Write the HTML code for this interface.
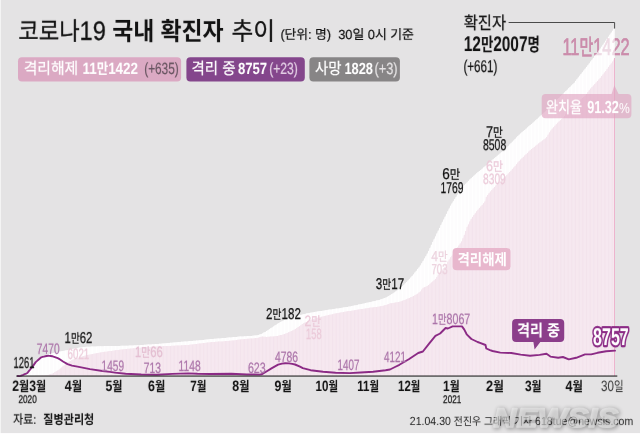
<!DOCTYPE html>
<html lang="ko"><head><meta charset="utf-8"><title>코로나19 국내 확진자 추이</title>
<style>
html,body{margin:0;padding:0;background:#fff;}
body{width:640px;height:447px;overflow:hidden;}
svg{display:block;text-rendering:geometricPrecision;will-change:transform;font-family:'Liberation Sans','Noto Sans CJK KR',sans-serif;}
</style></head><body>
<svg width="640" height="447" viewBox="0 0 640 447">
<rect x="0.6" y="0" width="639.4" height="433.1" fill="#e4e3e4"/>
<text x="562.4" y="54.8" font-size="24" fill="#cb8cab" stroke="#cb8cab" stroke-width="0.6" textLength="67.3" lengthAdjust="spacingAndGlyphs">11<tspan font-size="22">만</tspan>1422</text>
<path d="M17.1,376.0 L17.8,375.9 L19.2,375.7 L20.6,375.4 L22.0,374.9 L23.3,374.3 L24.7,373.7 L26.1,373.1 L27.4,372.5 L28.8,370.7 L30.2,368.9 L31.6,367.2 L32.9,365.5 L34.3,363.5 L35.7,361.5 L37.1,360.2 L38.4,359.0 L39.8,357.6 L41.2,356.3 L42.5,355.9 L43.9,355.4 L45.3,355.0 L46.7,354.6 L48.0,354.3 L49.4,353.9 L50.8,353.5 L52.2,353.2 L53.5,352.9 L54.9,352.6 L56.3,352.4 L57.7,352.1 L59.0,351.8 L60.3,351.6 L61.6,351.3 L62.9,351.0 L64.2,350.7 L65.5,350.5 L66.8,350.2 L68.1,349.9 L69.4,349.6 L70.7,349.3 L71.9,349.0 L73.2,348.7 L74.5,348.4 L75.8,348.2 L77.1,347.9 L78.4,347.8 L79.7,347.6 L81.0,347.5 L82.3,347.3 L83.6,347.1 L84.9,347.0 L86.2,346.8 L87.5,346.8 L88.7,346.7 L90.0,346.7 L91.3,346.6 L92.6,346.5 L93.9,346.5 L95.2,346.4 L96.5,346.4 L97.8,346.3 L99.1,346.2 L100.5,346.2 L101.8,346.2 L103.2,346.2 L104.6,346.1 L106.0,346.1 L107.3,346.1 L108.7,346.1 L110.1,346.1 L111.4,346.0 L112.8,346.0 L114.2,346.0 L115.6,346.0 L116.9,345.9 L118.3,345.9 L119.7,345.9 L121.1,345.8 L122.4,345.8 L123.8,345.8 L125.2,345.8 L126.5,345.7 L127.9,345.7 L129.3,345.6 L130.7,345.5 L132.0,345.5 L133.4,345.4 L134.8,345.3 L136.2,345.3 L137.5,345.2 L138.9,345.2 L140.3,345.1 L141.7,345.0 L143.0,344.9 L144.4,344.8 L145.8,344.7 L147.1,344.6 L148.5,344.6 L149.9,344.5 L151.3,344.4 L152.6,344.3 L154.0,344.2 L155.4,344.1 L156.8,344.0 L158.1,343.9 L159.5,343.8 L160.9,343.7 L162.2,343.5 L163.6,343.4 L165.0,343.3 L166.4,343.2 L167.7,343.1 L169.1,343.0 L170.5,342.8 L171.9,342.7 L173.2,342.6 L174.6,342.5 L176.0,342.3 L177.3,342.2 L178.7,342.1 L180.1,342.0 L181.5,341.8 L182.8,341.7 L184.2,341.6 L185.6,341.5 L187.0,341.4 L188.3,341.2 L189.7,341.1 L191.1,341.0 L192.5,340.9 L193.8,340.8 L195.2,340.7 L196.6,340.6 L197.9,340.4 L199.3,340.3 L200.7,340.2 L202.1,340.0 L203.4,339.9 L204.8,339.7 L206.2,339.6 L207.6,339.4 L208.9,339.3 L210.3,339.1 L211.7,339.0 L213.0,338.9 L214.4,338.8 L215.8,338.7 L217.2,338.6 L218.5,338.5 L219.9,338.4 L221.3,338.2 L222.7,338.1 L224.0,338.0 L225.4,337.9 L226.8,337.8 L228.1,337.6 L229.5,337.5 L230.9,337.4 L232.3,337.3 L233.6,337.1 L235.0,337.0 L236.4,336.9 L237.8,336.8 L239.1,336.6 L240.5,336.5 L241.9,336.4 L243.3,336.4 L244.6,336.3 L246.0,336.2 L247.4,336.1 L248.7,336.0 L250.1,335.9 L251.5,335.9 L252.9,335.8 L254.2,335.6 L255.6,335.5 L257.0,335.3 L258.4,335.1 L259.7,334.6 L261.1,334.0 L262.5,333.4 L263.8,332.6 L265.2,331.9 L266.6,331.1 L268.0,330.2 L269.3,329.2 L270.7,328.3 L272.1,327.4 L273.5,326.5 L274.8,325.6 L276.2,324.7 L277.6,323.8 L278.9,322.9 L280.3,322.0 L281.7,321.4 L283.1,320.7 L284.4,320.1 L285.8,319.6 L287.2,319.0 L288.6,318.4 L289.9,318.0 L291.3,317.6 L292.7,317.2 L294.1,316.8 L295.4,316.4 L296.8,316.0 L298.2,315.7 L299.5,315.3 L300.9,315.0 L302.3,314.6 L303.7,314.3 L305.0,314.0 L306.4,313.6 L307.8,313.3 L309.2,313.0 L310.5,312.7 L311.9,312.5 L313.3,312.2 L314.6,311.9 L316.0,311.7 L317.4,311.5 L318.8,311.3 L320.1,311.1 L321.5,310.9 L322.9,310.7 L324.3,310.5 L325.6,310.2 L327.0,310.0 L328.4,309.8 L329.8,309.6 L331.1,309.4 L332.5,309.2 L333.9,309.0 L335.2,308.8 L336.6,308.6 L338.0,308.4 L339.4,308.2 L340.7,308.0 L342.1,307.7 L343.5,307.5 L344.9,307.3 L346.2,307.1 L347.6,306.9 L349.0,306.6 L350.3,306.4 L351.7,306.1 L353.1,305.8 L354.5,305.5 L355.8,305.2 L357.2,304.9 L358.6,304.6 L360.0,304.3 L361.3,304.0 L362.7,303.7 L364.1,303.4 L365.4,303.1 L366.8,302.8 L368.2,302.5 L369.6,302.2 L370.9,301.9 L372.3,301.6 L373.7,301.2 L375.1,300.9 L376.4,300.6 L377.8,300.3 L379.2,300.0 L380.6,299.5 L381.9,299.0 L383.3,298.5 L384.7,298.0 L386.0,297.5 L387.4,296.7 L388.8,295.9 L390.2,295.1 L391.5,294.3 L392.9,293.4 L394.3,292.5 L395.7,291.5 L397.0,290.6 L398.4,289.6 L399.8,288.7 L401.1,287.4 L402.5,286.0 L403.9,284.7 L405.3,283.3 L406.6,282.0 L408.0,280.6 L409.4,279.1 L410.8,277.5 L412.1,276.0 L413.5,274.4 L414.9,272.6 L416.2,270.9 L417.6,269.1 L419.0,267.4 L420.4,265.6 L421.7,263.3 L423.1,260.9 L424.5,258.5 L425.9,256.2 L427.2,253.8 L428.6,250.9 L430.0,248.0 L431.4,245.1 L432.7,242.1 L434.1,239.2 L435.5,236.4 L436.8,233.6 L438.2,230.7 L439.6,227.9 L441.0,225.1 L442.3,222.3 L443.7,219.6 L445.1,216.8 L446.5,214.1 L447.8,211.3 L449.2,208.5 L450.6,205.8 L451.9,203.5 L453.3,201.3 L454.7,199.1 L456.1,196.9 L457.4,194.8 L458.8,192.8 L460.2,190.8 L461.6,188.7 L462.9,186.7 L464.3,185.3 L465.7,183.8 L467.1,182.4 L468.4,181.0 L469.8,179.5 L471.2,178.3 L472.5,177.0 L473.9,175.7 L475.3,174.5 L476.7,173.2 L478.0,172.1 L479.4,171.0 L480.8,169.9 L482.2,168.7 L483.5,167.6 L484.9,166.4 L486.3,165.3 L487.6,164.1 L489.0,162.9 L490.4,161.7 L491.8,160.5 L493.1,159.3 L494.5,158.2 L495.9,157.0 L497.3,155.8 L498.6,154.7 L500.0,153.5 L501.4,152.3 L502.7,151.2 L504.1,150.0 L505.5,148.8 L506.9,147.4 L508.2,146.0 L509.6,144.6 L511.0,143.2 L512.4,141.8 L513.7,140.4 L515.1,139.0 L516.5,137.5 L517.9,136.1 L519.2,134.7 L520.6,133.5 L522.0,132.3 L523.3,131.1 L524.7,129.9 L526.1,128.7 L527.5,127.5 L528.8,126.3 L530.2,125.1 L531.6,123.9 L533.0,122.7 L534.3,121.4 L535.7,120.2 L537.1,119.0 L538.4,117.7 L539.8,116.5 L541.2,115.3 L542.6,114.0 L543.9,112.8 L545.3,111.4 L546.7,110.1 L548.1,108.7 L549.4,107.4 L550.8,106.0 L552.2,104.7 L553.5,103.3 L554.9,102.0 L556.3,100.6 L557.7,99.3 L559.0,97.9 L560.4,96.6 L561.8,95.2 L563.2,93.8 L564.5,92.5 L565.9,91.1 L567.3,89.7 L568.7,88.3 L570.0,87.0 L571.4,85.6 L572.8,84.2 L574.1,82.9 L575.5,81.1 L576.9,79.3 L578.3,77.6 L579.6,75.8 L581.0,74.0 L582.4,72.3 L583.8,70.5 L585.1,68.8 L586.5,67.0 L587.9,65.2 L589.2,63.4 L590.6,61.5 L592.0,59.7 L593.4,57.9 L594.7,56.1 L596.1,54.2 L597.5,52.4 L598.9,50.6 L600.2,48.7 L601.6,46.7 L603.0,44.7 L604.4,42.7 L605.7,40.8 L607.1,38.8 L608.5,36.8 L609.8,34.8 L611.2,32.8 L612.6,30.8 L614.0,28.8 L614.6,28.8 L614.6,376.0 Z" fill="#f7f6f7"/>
<path d="M17.30,376.0h1.07V375.9h-1.07zM18.67,376.0h1.07V375.7h-1.07zM20.04,376.0h1.07V375.4h-1.07zM21.42,376.0h1.07V374.9h-1.07zM22.79,376.0h1.07V374.3h-1.07zM24.16,376.0h1.07V373.7h-1.07zM25.54,376.0h1.07V373.1h-1.07zM26.91,376.0h1.07V372.5h-1.07zM28.28,376.0h1.07V370.7h-1.07zM29.65,376.0h1.07V368.9h-1.07zM31.03,376.0h1.07V367.2h-1.07zM32.40,376.0h1.07V365.5h-1.07zM33.77,376.0h1.07V363.5h-1.07zM35.15,376.0h1.07V361.5h-1.07zM36.52,376.0h1.07V360.2h-1.07zM37.89,376.0h1.07V359.0h-1.07zM39.27,376.0h1.07V357.6h-1.07zM40.64,376.0h1.07V356.3h-1.07zM42.01,376.0h1.07V355.9h-1.07zM43.38,376.0h1.07V355.4h-1.07zM44.76,376.0h1.07V355.0h-1.07zM46.13,376.0h1.07V354.6h-1.07zM47.50,376.0h1.07V354.3h-1.07zM48.88,376.0h1.07V353.9h-1.07zM50.25,376.0h1.07V353.5h-1.07zM51.62,376.0h1.07V353.2h-1.07zM53.00,376.0h1.07V352.9h-1.07zM54.37,376.0h1.07V352.6h-1.07zM55.74,376.0h1.07V352.4h-1.07zM57.11,376.0h1.07V352.1h-1.07zM58.49,376.0h1.07V351.8h-1.07zM59.78,376.0h1.07V351.6h-1.07zM61.07,376.0h1.07V351.3h-1.07zM62.36,376.0h1.07V351.0h-1.07zM63.66,376.0h1.07V350.7h-1.07zM64.95,376.0h1.07V350.5h-1.07zM66.24,376.0h1.07V350.2h-1.07zM67.53,376.0h1.07V349.9h-1.07zM68.83,376.0h1.07V349.6h-1.07zM70.12,376.0h1.07V349.3h-1.07zM71.41,376.0h1.07V349.0h-1.07zM72.70,376.0h1.07V348.7h-1.07zM74.00,376.0h1.07V348.4h-1.07zM75.29,376.0h1.07V348.2h-1.07zM76.58,376.0h1.07V347.9h-1.07zM77.87,376.0h1.07V347.8h-1.07zM79.17,376.0h1.07V347.6h-1.07zM80.46,376.0h1.07V347.5h-1.07zM81.75,376.0h1.07V347.3h-1.07zM83.04,376.0h1.07V347.1h-1.07zM84.33,376.0h1.07V347.0h-1.07zM85.63,376.0h1.07V346.8h-1.07zM86.92,376.0h1.07V346.8h-1.07zM88.21,376.0h1.07V346.7h-1.07zM89.50,376.0h1.07V346.7h-1.07zM90.80,376.0h1.07V346.6h-1.07zM92.09,376.0h1.07V346.5h-1.07zM93.38,376.0h1.07V346.5h-1.07zM94.67,376.0h1.07V346.4h-1.07zM95.97,376.0h1.07V346.4h-1.07zM97.26,376.0h1.07V346.3h-1.07zM98.55,376.0h1.07V346.2h-1.07zM99.92,376.0h1.07V346.2h-1.07zM101.30,376.0h1.07V346.2h-1.07zM102.67,376.0h1.07V346.2h-1.07zM104.04,376.0h1.07V346.1h-1.07zM105.42,376.0h1.07V346.1h-1.07zM106.79,376.0h1.07V346.1h-1.07zM108.16,376.0h1.07V346.1h-1.07zM109.53,376.0h1.07V346.1h-1.07zM110.91,376.0h1.07V346.0h-1.07zM112.28,376.0h1.07V346.0h-1.07zM113.65,376.0h1.07V346.0h-1.07zM115.03,376.0h1.07V346.0h-1.07zM116.40,376.0h1.07V345.9h-1.07zM117.77,376.0h1.07V345.9h-1.07zM119.15,376.0h1.07V345.9h-1.07zM120.52,376.0h1.07V345.8h-1.07zM121.89,376.0h1.07V345.8h-1.07zM123.26,376.0h1.07V345.8h-1.07zM124.64,376.0h1.07V345.8h-1.07zM126.01,376.0h1.07V345.7h-1.07zM127.38,376.0h1.07V345.7h-1.07zM128.76,376.0h1.07V345.6h-1.07zM130.13,376.0h1.07V345.5h-1.07zM131.50,376.0h1.07V345.5h-1.07zM132.88,376.0h1.07V345.4h-1.07zM134.25,376.0h1.07V345.3h-1.07zM135.62,376.0h1.07V345.3h-1.07zM136.99,376.0h1.07V345.2h-1.07zM138.37,376.0h1.07V345.2h-1.07zM139.74,376.0h1.07V345.1h-1.07zM141.11,376.0h1.07V345.0h-1.07zM142.49,376.0h1.07V344.9h-1.07zM143.86,376.0h1.07V344.8h-1.07zM145.23,376.0h1.07V344.7h-1.07zM146.61,376.0h1.07V344.6h-1.07zM147.98,376.0h1.07V344.6h-1.07zM149.35,376.0h1.07V344.5h-1.07zM150.72,376.0h1.07V344.4h-1.07zM152.10,376.0h1.07V344.3h-1.07zM153.47,376.0h1.07V344.2h-1.07zM154.84,376.0h1.07V344.1h-1.07zM156.22,376.0h1.07V344.0h-1.07zM157.59,376.0h1.07V343.9h-1.07zM158.96,376.0h1.07V343.8h-1.07zM160.34,376.0h1.07V343.7h-1.07zM161.71,376.0h1.07V343.5h-1.07zM163.08,376.0h1.07V343.4h-1.07zM164.45,376.0h1.07V343.3h-1.07zM165.83,376.0h1.07V343.2h-1.07zM167.20,376.0h1.07V343.1h-1.07zM168.57,376.0h1.07V343.0h-1.07zM169.95,376.0h1.07V342.8h-1.07zM171.32,376.0h1.07V342.7h-1.07zM172.69,376.0h1.07V342.6h-1.07zM174.07,376.0h1.07V342.5h-1.07zM175.44,376.0h1.07V342.3h-1.07zM176.81,376.0h1.07V342.2h-1.07zM178.18,376.0h1.07V342.1h-1.07zM179.56,376.0h1.07V342.0h-1.07zM180.93,376.0h1.07V341.8h-1.07zM182.30,376.0h1.07V341.7h-1.07zM183.68,376.0h1.07V341.6h-1.07zM185.05,376.0h1.07V341.5h-1.07zM186.42,376.0h1.07V341.4h-1.07zM187.80,376.0h1.07V341.2h-1.07zM189.17,376.0h1.07V341.1h-1.07zM190.54,376.0h1.07V341.0h-1.07zM191.91,376.0h1.07V340.9h-1.07zM193.29,376.0h1.07V340.8h-1.07zM194.66,376.0h1.07V340.7h-1.07zM196.03,376.0h1.07V340.6h-1.07zM197.41,376.0h1.07V340.4h-1.07zM198.78,376.0h1.07V340.3h-1.07zM200.15,376.0h1.07V340.2h-1.07zM201.53,376.0h1.07V340.0h-1.07zM202.90,376.0h1.07V339.9h-1.07zM204.27,376.0h1.07V339.7h-1.07zM205.64,376.0h1.07V339.6h-1.07zM207.02,376.0h1.07V339.4h-1.07zM208.39,376.0h1.07V339.3h-1.07zM209.76,376.0h1.07V339.1h-1.07zM211.14,376.0h1.07V339.0h-1.07zM212.51,376.0h1.07V338.9h-1.07zM213.88,376.0h1.07V338.8h-1.07zM215.26,376.0h1.07V338.7h-1.07zM216.63,376.0h1.07V338.6h-1.07zM218.00,376.0h1.07V338.5h-1.07zM219.37,376.0h1.07V338.4h-1.07zM220.75,376.0h1.07V338.2h-1.07zM222.12,376.0h1.07V338.1h-1.07zM223.49,376.0h1.07V338.0h-1.07zM224.87,376.0h1.07V337.9h-1.07zM226.24,376.0h1.07V337.8h-1.07zM227.61,376.0h1.07V337.6h-1.07zM228.99,376.0h1.07V337.5h-1.07zM230.36,376.0h1.07V337.4h-1.07zM231.73,376.0h1.07V337.3h-1.07zM233.10,376.0h1.07V337.1h-1.07zM234.48,376.0h1.07V337.0h-1.07zM235.85,376.0h1.07V336.9h-1.07zM237.22,376.0h1.07V336.8h-1.07zM238.60,376.0h1.07V336.6h-1.07zM239.97,376.0h1.07V336.5h-1.07zM241.34,376.0h1.07V336.4h-1.07zM242.72,376.0h1.07V336.4h-1.07zM244.09,376.0h1.07V336.3h-1.07zM245.46,376.0h1.07V336.2h-1.07zM246.83,376.0h1.07V336.1h-1.07zM248.21,376.0h1.07V336.0h-1.07zM249.58,376.0h1.07V335.9h-1.07zM250.95,376.0h1.07V335.9h-1.07zM252.33,376.0h1.07V335.8h-1.07zM253.70,376.0h1.07V335.6h-1.07zM255.07,376.0h1.07V335.5h-1.07zM256.45,376.0h1.07V335.3h-1.07zM257.82,376.0h1.07V335.1h-1.07zM259.19,376.0h1.07V334.6h-1.07zM260.56,376.0h1.07V334.0h-1.07zM261.94,376.0h1.07V333.4h-1.07zM263.31,376.0h1.07V332.6h-1.07zM264.68,376.0h1.07V331.9h-1.07zM266.06,376.0h1.07V331.1h-1.07zM267.43,376.0h1.07V330.2h-1.07zM268.80,376.0h1.07V329.2h-1.07zM270.18,376.0h1.07V328.3h-1.07zM271.55,376.0h1.07V327.4h-1.07zM272.92,376.0h1.07V326.5h-1.07zM274.29,376.0h1.07V325.6h-1.07zM275.67,376.0h1.07V324.7h-1.07zM277.04,376.0h1.07V323.8h-1.07zM278.41,376.0h1.07V322.9h-1.07zM279.79,376.0h1.07V322.0h-1.07zM281.16,376.0h1.07V321.4h-1.07zM282.53,376.0h1.07V320.7h-1.07zM283.91,376.0h1.07V320.1h-1.07zM285.28,376.0h1.07V319.6h-1.07zM286.65,376.0h1.07V319.0h-1.07zM288.02,376.0h1.07V318.4h-1.07zM289.40,376.0h1.07V318.0h-1.07zM290.77,376.0h1.07V317.6h-1.07zM292.14,376.0h1.07V317.2h-1.07zM293.52,376.0h1.07V316.8h-1.07zM294.89,376.0h1.07V316.4h-1.07zM296.26,376.0h1.07V316.0h-1.07zM297.64,376.0h1.07V315.7h-1.07zM299.01,376.0h1.07V315.3h-1.07zM300.38,376.0h1.07V315.0h-1.07zM301.75,376.0h1.07V314.6h-1.07zM303.13,376.0h1.07V314.3h-1.07zM304.50,376.0h1.07V314.0h-1.07zM305.87,376.0h1.07V313.6h-1.07zM307.25,376.0h1.07V313.3h-1.07zM308.62,376.0h1.07V313.0h-1.07zM309.99,376.0h1.07V312.7h-1.07zM311.37,376.0h1.07V312.5h-1.07zM312.74,376.0h1.07V312.2h-1.07zM314.11,376.0h1.07V311.9h-1.07zM315.48,376.0h1.07V311.7h-1.07zM316.86,376.0h1.07V311.5h-1.07zM318.23,376.0h1.07V311.3h-1.07zM319.60,376.0h1.07V311.1h-1.07zM320.98,376.0h1.07V310.9h-1.07zM322.35,376.0h1.07V310.7h-1.07zM323.72,376.0h1.07V310.5h-1.07zM325.10,376.0h1.07V310.2h-1.07zM326.47,376.0h1.07V310.0h-1.07zM327.84,376.0h1.07V309.8h-1.07zM329.21,376.0h1.07V309.6h-1.07zM330.59,376.0h1.07V309.4h-1.07zM331.96,376.0h1.07V309.2h-1.07zM333.33,376.0h1.07V309.0h-1.07zM334.71,376.0h1.07V308.8h-1.07zM336.08,376.0h1.07V308.6h-1.07zM337.45,376.0h1.07V308.4h-1.07zM338.83,376.0h1.07V308.2h-1.07zM340.20,376.0h1.07V308.0h-1.07zM341.57,376.0h1.07V307.7h-1.07zM342.94,376.0h1.07V307.5h-1.07zM344.32,376.0h1.07V307.3h-1.07zM345.69,376.0h1.07V307.1h-1.07zM347.06,376.0h1.07V306.9h-1.07zM348.44,376.0h1.07V306.6h-1.07zM349.81,376.0h1.07V306.4h-1.07zM351.18,376.0h1.07V306.1h-1.07zM352.56,376.0h1.07V305.8h-1.07zM353.93,376.0h1.07V305.5h-1.07zM355.30,376.0h1.07V305.2h-1.07zM356.67,376.0h1.07V304.9h-1.07zM358.05,376.0h1.07V304.6h-1.07zM359.42,376.0h1.07V304.3h-1.07zM360.79,376.0h1.07V304.0h-1.07zM362.17,376.0h1.07V303.7h-1.07zM363.54,376.0h1.07V303.4h-1.07zM364.91,376.0h1.07V303.1h-1.07zM366.29,376.0h1.07V302.8h-1.07zM367.66,376.0h1.07V302.5h-1.07zM369.03,376.0h1.07V302.2h-1.07zM370.40,376.0h1.07V301.9h-1.07zM371.78,376.0h1.07V301.6h-1.07zM373.15,376.0h1.07V301.2h-1.07zM374.52,376.0h1.07V300.9h-1.07zM375.90,376.0h1.07V300.6h-1.07zM377.27,376.0h1.07V300.3h-1.07zM378.64,376.0h1.07V300.0h-1.07zM380.02,376.0h1.07V299.5h-1.07zM381.39,376.0h1.07V299.0h-1.07zM382.76,376.0h1.07V298.5h-1.07zM384.13,376.0h1.07V298.0h-1.07zM385.51,376.0h1.07V297.5h-1.07zM386.88,376.0h1.07V296.7h-1.07zM388.25,376.0h1.07V295.9h-1.07zM389.63,376.0h1.07V295.1h-1.07zM391.00,376.0h1.07V294.3h-1.07zM392.37,376.0h1.07V293.4h-1.07zM393.75,376.0h1.07V292.5h-1.07zM395.12,376.0h1.07V291.5h-1.07zM396.49,376.0h1.07V290.6h-1.07zM397.86,376.0h1.07V289.6h-1.07zM399.24,376.0h1.07V288.7h-1.07zM400.61,376.0h1.07V287.4h-1.07zM401.98,376.0h1.07V286.0h-1.07zM403.36,376.0h1.07V284.7h-1.07zM404.73,376.0h1.07V283.3h-1.07zM406.10,376.0h1.07V282.0h-1.07zM407.48,376.0h1.07V280.6h-1.07zM408.85,376.0h1.07V279.1h-1.07zM410.22,376.0h1.07V277.5h-1.07zM411.59,376.0h1.07V276.0h-1.07zM412.97,376.0h1.07V274.4h-1.07zM414.34,376.0h1.07V272.6h-1.07zM415.71,376.0h1.07V270.9h-1.07zM417.09,376.0h1.07V269.1h-1.07zM418.46,376.0h1.07V267.4h-1.07zM419.83,376.0h1.07V265.6h-1.07zM421.21,376.0h1.07V263.3h-1.07zM422.58,376.0h1.07V260.9h-1.07zM423.95,376.0h1.07V258.5h-1.07zM425.32,376.0h1.07V256.2h-1.07zM426.70,376.0h1.07V253.8h-1.07zM428.07,376.0h1.07V250.9h-1.07zM429.44,376.0h1.07V248.0h-1.07zM430.82,376.0h1.07V245.1h-1.07zM432.19,376.0h1.07V242.1h-1.07zM433.56,376.0h1.07V239.2h-1.07zM434.94,376.0h1.07V236.4h-1.07zM436.31,376.0h1.07V233.6h-1.07zM437.68,376.0h1.07V230.7h-1.07zM439.05,376.0h1.07V227.9h-1.07zM440.43,376.0h1.07V225.1h-1.07zM441.80,376.0h1.07V222.3h-1.07zM443.17,376.0h1.07V219.6h-1.07zM444.55,376.0h1.07V216.8h-1.07zM445.92,376.0h1.07V214.1h-1.07zM447.29,376.0h1.07V211.3h-1.07zM448.67,376.0h1.07V208.5h-1.07zM450.04,376.0h1.07V205.8h-1.07zM451.41,376.0h1.07V203.5h-1.07zM452.78,376.0h1.07V201.3h-1.07zM454.16,376.0h1.07V199.1h-1.07zM455.53,376.0h1.07V196.9h-1.07zM456.90,376.0h1.07V194.8h-1.07zM458.28,376.0h1.07V192.8h-1.07zM459.65,376.0h1.07V190.8h-1.07zM461.02,376.0h1.07V188.7h-1.07zM462.40,376.0h1.07V186.7h-1.07zM463.77,376.0h1.07V185.3h-1.07zM465.14,376.0h1.07V183.8h-1.07zM466.51,376.0h1.07V182.4h-1.07zM467.89,376.0h1.07V181.0h-1.07zM469.26,376.0h1.07V179.5h-1.07zM470.63,376.0h1.07V178.3h-1.07zM472.01,376.0h1.07V177.0h-1.07zM473.38,376.0h1.07V175.7h-1.07zM474.75,376.0h1.07V174.5h-1.07zM476.13,376.0h1.07V173.2h-1.07zM477.50,376.0h1.07V172.1h-1.07zM478.87,376.0h1.07V171.0h-1.07zM480.24,376.0h1.07V169.9h-1.07zM481.62,376.0h1.07V168.7h-1.07zM482.99,376.0h1.07V167.6h-1.07zM484.36,376.0h1.07V166.4h-1.07zM485.74,376.0h1.07V165.3h-1.07zM487.11,376.0h1.07V164.1h-1.07zM488.48,376.0h1.07V162.9h-1.07zM489.86,376.0h1.07V161.7h-1.07zM491.23,376.0h1.07V160.5h-1.07zM492.60,376.0h1.07V159.3h-1.07zM493.97,376.0h1.07V158.2h-1.07zM495.35,376.0h1.07V157.0h-1.07zM496.72,376.0h1.07V155.8h-1.07zM498.09,376.0h1.07V154.7h-1.07zM499.47,376.0h1.07V153.5h-1.07zM500.84,376.0h1.07V152.3h-1.07zM502.21,376.0h1.07V151.2h-1.07zM503.59,376.0h1.07V150.0h-1.07zM504.96,376.0h1.07V148.8h-1.07zM506.33,376.0h1.07V147.4h-1.07zM507.70,376.0h1.07V146.0h-1.07zM509.08,376.0h1.07V144.6h-1.07zM510.45,376.0h1.07V143.2h-1.07zM511.82,376.0h1.07V141.8h-1.07zM513.20,376.0h1.07V140.4h-1.07zM514.57,376.0h1.07V139.0h-1.07zM515.94,376.0h1.07V137.5h-1.07zM517.32,376.0h1.07V136.1h-1.07zM518.69,376.0h1.07V134.7h-1.07zM520.06,376.0h1.07V133.5h-1.07zM521.43,376.0h1.07V132.3h-1.07zM522.81,376.0h1.07V131.1h-1.07zM524.18,376.0h1.07V129.9h-1.07zM525.55,376.0h1.07V128.7h-1.07zM526.93,376.0h1.07V127.5h-1.07zM528.30,376.0h1.07V126.3h-1.07zM529.67,376.0h1.07V125.1h-1.07zM531.05,376.0h1.07V123.9h-1.07zM532.42,376.0h1.07V122.7h-1.07zM533.79,376.0h1.07V121.4h-1.07zM535.16,376.0h1.07V120.2h-1.07zM536.54,376.0h1.07V119.0h-1.07zM537.91,376.0h1.07V117.7h-1.07zM539.28,376.0h1.07V116.5h-1.07zM540.66,376.0h1.07V115.3h-1.07zM542.03,376.0h1.07V114.0h-1.07zM543.40,376.0h1.07V112.8h-1.07zM544.78,376.0h1.07V111.4h-1.07zM546.15,376.0h1.07V110.1h-1.07zM547.52,376.0h1.07V108.7h-1.07zM548.89,376.0h1.07V107.4h-1.07zM550.27,376.0h1.07V106.0h-1.07zM551.64,376.0h1.07V104.7h-1.07zM553.01,376.0h1.07V103.3h-1.07zM554.39,376.0h1.07V102.0h-1.07zM555.76,376.0h1.07V100.6h-1.07zM557.13,376.0h1.07V99.3h-1.07zM558.51,376.0h1.07V97.9h-1.07zM559.88,376.0h1.07V96.6h-1.07zM561.25,376.0h1.07V95.2h-1.07zM562.62,376.0h1.07V93.8h-1.07zM564.00,376.0h1.07V92.5h-1.07zM565.37,376.0h1.07V91.1h-1.07zM566.74,376.0h1.07V89.7h-1.07zM568.12,376.0h1.07V88.3h-1.07zM569.49,376.0h1.07V87.0h-1.07zM570.86,376.0h1.07V85.6h-1.07zM572.24,376.0h1.07V84.2h-1.07zM573.61,376.0h1.07V82.9h-1.07zM574.98,376.0h1.07V81.1h-1.07zM576.35,376.0h1.07V79.3h-1.07zM577.73,376.0h1.07V77.6h-1.07zM579.10,376.0h1.07V75.8h-1.07zM580.47,376.0h1.07V74.0h-1.07zM581.85,376.0h1.07V72.3h-1.07zM583.22,376.0h1.07V70.5h-1.07zM584.59,376.0h1.07V68.8h-1.07zM585.97,376.0h1.07V67.0h-1.07zM587.34,376.0h1.07V65.2h-1.07zM588.71,376.0h1.07V63.4h-1.07zM590.08,376.0h1.07V61.5h-1.07zM591.46,376.0h1.07V59.7h-1.07zM592.83,376.0h1.07V57.9h-1.07zM594.20,376.0h1.07V56.1h-1.07zM595.58,376.0h1.07V54.2h-1.07zM596.95,376.0h1.07V52.4h-1.07zM598.32,376.0h1.07V50.6h-1.07zM599.70,376.0h1.07V48.7h-1.07zM601.07,376.0h1.07V46.7h-1.07zM602.44,376.0h1.07V44.7h-1.07zM603.81,376.0h1.07V42.7h-1.07zM605.19,376.0h1.07V40.8h-1.07zM606.56,376.0h1.07V38.8h-1.07zM607.93,376.0h1.07V36.8h-1.07zM609.31,376.0h1.07V34.8h-1.07zM610.68,376.0h1.07V32.8h-1.07zM612.05,376.0h1.07V30.8h-1.07zM613.43,376.0h1.07V28.8h-1.07z" fill="#fff"/>
<path d="M17.1,376.0 L17.8,376.0 L19.2,376.0 L20.6,376.0 L22.0,376.0 L23.3,376.0 L24.7,376.0 L26.1,376.0 L27.4,375.9 L28.8,375.9 L30.2,375.9 L31.6,375.9 L32.9,375.9 L34.3,375.9 L35.7,375.8 L37.1,375.8 L38.4,375.8 L39.8,375.7 L41.2,375.6 L42.5,375.5 L43.9,375.4 L45.3,375.3 L46.7,375.2 L48.0,375.1 L49.4,374.6 L50.8,374.1 L52.2,373.7 L53.5,372.9 L54.9,372.1 L56.3,371.3 L57.7,370.5 L59.0,369.8 L60.3,368.5 L61.6,367.4 L62.9,366.2 L64.2,365.2 L65.5,364.2 L66.8,363.2 L68.1,362.3 L69.4,361.6 L70.7,360.9 L71.9,360.1 L73.2,359.6 L74.5,359.1 L75.8,358.6 L77.1,358.2 L78.4,357.8 L79.7,357.4 L81.0,357.0 L82.3,356.6 L83.6,356.1 L84.9,355.7 L86.2,355.3 L87.5,355.0 L88.7,354.7 L90.0,354.4 L91.3,354.2 L92.6,353.9 L93.9,353.7 L95.2,353.4 L96.5,353.2 L97.8,352.9 L99.1,352.7 L100.5,352.4 L101.8,352.2 L103.2,352.0 L104.6,351.8 L106.0,351.7 L107.3,351.5 L108.7,351.3 L110.1,351.1 L111.4,350.9 L112.8,350.7 L114.2,350.5 L115.6,350.3 L116.9,350.1 L118.3,349.9 L119.7,349.8 L121.1,349.6 L122.4,349.4 L123.8,349.2 L125.2,349.1 L126.5,348.9 L127.9,348.8 L129.3,348.7 L130.7,348.6 L132.0,348.4 L133.4,348.3 L134.8,348.2 L136.2,348.0 L137.5,347.9 L138.9,347.8 L140.3,347.7 L141.7,347.5 L143.0,347.4 L144.4,347.3 L145.8,347.2 L147.1,347.1 L148.5,347.0 L149.9,346.9 L151.3,346.8 L152.6,346.7 L154.0,346.6 L155.4,346.5 L156.8,346.4 L158.1,346.3 L159.5,346.3 L160.9,346.2 L162.2,346.2 L163.6,346.1 L165.0,346.1 L166.4,346.0 L167.7,346.0 L169.1,345.9 L170.5,345.9 L171.9,345.8 L173.2,345.8 L174.6,345.7 L176.0,345.6 L177.3,345.5 L178.7,345.4 L180.1,345.4 L181.5,345.3 L182.8,345.2 L184.2,345.1 L185.6,345.1 L187.0,345.0 L188.3,344.9 L189.7,344.7 L191.1,344.6 L192.5,344.4 L193.8,344.3 L195.2,344.1 L196.6,343.9 L197.9,343.8 L199.3,343.6 L200.7,343.4 L202.1,343.3 L203.4,343.1 L204.8,342.9 L206.2,342.7 L207.6,342.6 L208.9,342.4 L210.3,342.2 L211.7,342.1 L213.0,342.0 L214.4,341.9 L215.8,341.8 L217.2,341.7 L218.5,341.6 L219.9,341.5 L221.3,341.5 L222.7,341.4 L224.0,341.3 L225.4,341.1 L226.8,341.0 L228.1,340.9 L229.5,340.8 L230.9,340.7 L232.3,340.5 L233.6,340.4 L235.0,340.2 L236.4,340.0 L237.8,339.8 L239.1,339.6 L240.5,339.4 L241.9,339.3 L243.3,339.2 L244.6,339.0 L246.0,338.9 L247.4,338.7 L248.7,338.7 L250.1,338.6 L251.5,338.5 L252.9,338.4 L254.2,338.2 L255.6,338.0 L257.0,337.9 L258.4,337.7 L259.7,337.2 L261.1,336.8 L262.5,336.6 L263.8,336.7 L265.2,336.8 L266.6,336.9 L268.0,336.8 L269.3,336.7 L270.7,336.6 L272.1,336.5 L273.5,336.4 L274.8,336.3 L276.2,336.1 L277.6,336.0 L278.9,335.6 L280.3,335.1 L281.7,334.9 L283.1,334.4 L284.4,334.0 L285.8,333.4 L287.2,332.9 L288.6,332.3 L289.9,331.7 L291.3,331.1 L292.7,330.5 L294.1,329.8 L295.4,329.0 L296.8,328.1 L298.2,327.1 L299.5,326.2 L300.9,325.2 L302.3,324.1 L303.7,323.3 L305.0,322.6 L306.4,321.9 L307.8,321.2 L309.2,320.5 L310.5,319.9 L311.9,319.5 L313.3,319.0 L314.6,318.6 L316.0,318.2 L317.4,317.8 L318.8,317.5 L320.1,317.1 L321.5,316.8 L322.9,316.4 L324.3,316.1 L325.6,315.8 L327.0,315.4 L328.4,315.1 L329.8,314.8 L331.1,314.5 L332.5,314.2 L333.9,313.8 L335.2,313.5 L336.6,313.3 L338.0,313.0 L339.4,312.8 L340.7,312.5 L342.1,312.3 L343.5,312.1 L344.9,311.8 L346.2,311.6 L347.6,311.3 L349.0,311.1 L350.3,310.9 L351.7,310.7 L353.1,310.4 L354.5,310.2 L355.8,310.0 L357.2,309.8 L358.6,309.6 L360.0,309.3 L361.3,309.1 L362.7,308.9 L364.1,308.7 L365.4,308.5 L366.8,308.3 L368.2,308.1 L369.6,307.8 L370.9,307.6 L372.3,307.4 L373.7,307.2 L375.1,307.1 L376.4,306.9 L377.8,306.8 L379.2,306.6 L380.6,306.3 L381.9,306.0 L383.3,305.7 L384.7,305.3 L386.0,305.0 L387.4,304.4 L388.8,303.9 L390.2,303.3 L391.5,303.2 L392.9,303.1 L394.3,302.8 L395.7,302.6 L397.0,302.3 L398.4,302.1 L399.8,301.8 L401.1,301.3 L402.5,300.8 L403.9,300.2 L405.3,299.7 L406.6,299.2 L408.0,298.6 L409.4,298.0 L410.8,297.3 L412.1,296.7 L413.5,296.1 L414.9,295.3 L416.2,294.5 L417.6,293.7 L419.0,292.6 L420.4,291.4 L421.7,289.5 L423.1,287.8 L424.5,287.2 L425.9,286.7 L427.2,286.1 L428.6,284.9 L430.0,283.8 L431.4,282.6 L432.7,281.4 L434.1,280.2 L435.5,279.1 L436.8,277.0 L438.2,274.8 L439.6,272.7 L441.0,271.1 L442.3,269.7 L443.7,268.3 L445.1,267.0 L446.5,264.6 L447.8,261.6 L449.2,259.4 L450.6,257.3 L451.9,255.7 L453.3,253.8 L454.7,251.7 L456.1,249.5 L457.4,247.5 L458.8,245.5 L460.2,243.5 L461.6,241.5 L462.9,238.2 L464.3,234.9 L465.7,230.9 L467.1,227.1 L468.4,224.4 L469.8,221.6 L471.2,219.0 L472.5,217.0 L473.9,215.1 L475.3,213.2 L476.7,211.3 L478.0,209.7 L479.4,208.1 L480.8,206.5 L482.2,204.9 L483.5,203.3 L484.9,201.6 L486.3,196.9 L487.6,195.0 L489.0,193.2 L490.4,191.5 L491.8,189.9 L493.1,188.4 L494.5,187.0 L495.9,185.6 L497.3,184.1 L498.6,182.7 L500.0,181.3 L501.4,180.0 L502.7,178.8 L504.1,177.6 L505.5,176.4 L506.9,175.0 L508.2,173.6 L509.6,172.1 L511.0,170.7 L512.4,169.1 L513.7,167.5 L515.1,165.9 L516.5,164.2 L517.9,162.6 L519.2,161.0 L520.6,159.6 L522.0,158.2 L523.3,156.9 L524.7,155.5 L526.1,154.2 L527.5,152.9 L528.8,151.5 L530.2,150.2 L531.6,149.1 L533.0,148.0 L534.3,146.9 L535.7,145.8 L537.1,144.7 L538.4,143.6 L539.8,142.5 L541.2,141.5 L542.6,140.5 L543.9,139.5 L545.3,138.4 L546.7,137.1 L548.1,134.8 L549.4,132.5 L550.8,130.4 L552.2,128.8 L553.5,127.3 L554.9,125.8 L556.3,124.2 L557.7,122.7 L559.0,121.4 L560.4,120.3 L561.8,119.1 L563.2,117.8 L564.5,115.9 L565.9,114.0 L567.3,112.1 L568.7,110.1 L570.0,109.0 L571.4,107.9 L572.8,106.9 L574.1,105.8 L575.5,104.4 L576.9,103.0 L578.3,101.8 L579.6,100.6 L581.0,99.3 L582.4,98.1 L583.8,96.9 L585.1,95.7 L586.5,93.9 L587.9,92.1 L589.2,90.3 L590.6,88.5 L592.0,86.9 L593.4,85.4 L594.7,83.9 L596.1,82.5 L597.5,81.0 L598.9,79.4 L600.2,77.9 L601.6,76.1 L603.0,74.4 L604.4,72.6 L605.7,70.9 L607.1,69.0 L608.5,67.1 L609.8,65.3 L611.2,63.4 L612.6,61.5 L614.0,59.6 L614.6,59.6 L614.6,376.0 Z" fill="#f9eff4"/>
<path d="M26.96,376.0h0.97V375.9h-0.97zM28.33,376.0h0.97V375.9h-0.97zM29.70,376.0h0.97V375.9h-0.97zM31.08,376.0h0.97V375.9h-0.97zM32.45,376.0h0.97V375.9h-0.97zM33.82,376.0h0.97V375.9h-0.97zM35.20,376.0h0.97V375.8h-0.97zM36.57,376.0h0.97V375.8h-0.97zM37.94,376.0h0.97V375.8h-0.97zM39.32,376.0h0.97V375.7h-0.97zM40.69,376.0h0.97V375.6h-0.97zM42.06,376.0h0.97V375.5h-0.97zM43.43,376.0h0.97V375.4h-0.97zM44.81,376.0h0.97V375.3h-0.97zM46.18,376.0h0.97V375.2h-0.97zM47.55,376.0h0.97V375.1h-0.97zM48.93,376.0h0.97V374.6h-0.97zM50.30,376.0h0.97V374.1h-0.97zM51.67,376.0h0.97V373.7h-0.97zM53.05,376.0h0.97V372.9h-0.97zM54.42,376.0h0.97V372.1h-0.97zM55.79,376.0h0.97V371.3h-0.97zM57.16,376.0h0.97V370.5h-0.97zM58.54,376.0h0.97V369.8h-0.97zM59.83,376.0h0.97V368.5h-0.97zM61.12,376.0h0.97V367.4h-0.97zM62.41,376.0h0.97V366.2h-0.97zM63.71,376.0h0.97V365.2h-0.97zM65.00,376.0h0.97V364.2h-0.97zM66.29,376.0h0.97V363.2h-0.97zM67.58,376.0h0.97V362.3h-0.97zM68.88,376.0h0.97V361.6h-0.97zM70.17,376.0h0.97V360.9h-0.97zM71.46,376.0h0.97V360.1h-0.97zM72.75,376.0h0.97V359.6h-0.97zM74.05,376.0h0.97V359.1h-0.97zM75.34,376.0h0.97V358.6h-0.97zM76.63,376.0h0.97V358.2h-0.97zM77.92,376.0h0.97V357.8h-0.97zM79.22,376.0h0.97V357.4h-0.97zM80.51,376.0h0.97V357.0h-0.97zM81.80,376.0h0.97V356.6h-0.97zM83.09,376.0h0.97V356.1h-0.97zM84.38,376.0h0.97V355.7h-0.97zM85.68,376.0h0.97V355.3h-0.97zM86.97,376.0h0.97V355.0h-0.97zM88.26,376.0h0.97V354.7h-0.97zM89.55,376.0h0.97V354.4h-0.97zM90.85,376.0h0.97V354.2h-0.97zM92.14,376.0h0.97V353.9h-0.97zM93.43,376.0h0.97V353.7h-0.97zM94.72,376.0h0.97V353.4h-0.97zM96.02,376.0h0.97V353.2h-0.97zM97.31,376.0h0.97V352.9h-0.97zM98.60,376.0h0.97V352.7h-0.97zM99.97,376.0h0.97V352.4h-0.97zM101.35,376.0h0.97V352.2h-0.97zM102.72,376.0h0.97V352.0h-0.97zM104.09,376.0h0.97V351.8h-0.97zM105.47,376.0h0.97V351.7h-0.97zM106.84,376.0h0.97V351.5h-0.97zM108.21,376.0h0.97V351.3h-0.97zM109.58,376.0h0.97V351.1h-0.97zM110.96,376.0h0.97V350.9h-0.97zM112.33,376.0h0.97V350.7h-0.97zM113.70,376.0h0.97V350.5h-0.97zM115.08,376.0h0.97V350.3h-0.97zM116.45,376.0h0.97V350.1h-0.97zM117.82,376.0h0.97V349.9h-0.97zM119.20,376.0h0.97V349.8h-0.97zM120.57,376.0h0.97V349.6h-0.97zM121.94,376.0h0.97V349.4h-0.97zM123.31,376.0h0.97V349.2h-0.97zM124.69,376.0h0.97V349.1h-0.97zM126.06,376.0h0.97V348.9h-0.97zM127.43,376.0h0.97V348.8h-0.97zM128.81,376.0h0.97V348.7h-0.97zM130.18,376.0h0.97V348.6h-0.97zM131.55,376.0h0.97V348.4h-0.97zM132.93,376.0h0.97V348.3h-0.97zM134.30,376.0h0.97V348.2h-0.97zM135.67,376.0h0.97V348.0h-0.97zM137.04,376.0h0.97V347.9h-0.97zM138.42,376.0h0.97V347.8h-0.97zM139.79,376.0h0.97V347.7h-0.97zM141.16,376.0h0.97V347.5h-0.97zM142.54,376.0h0.97V347.4h-0.97zM143.91,376.0h0.97V347.3h-0.97zM145.28,376.0h0.97V347.2h-0.97zM146.66,376.0h0.97V347.1h-0.97zM148.03,376.0h0.97V347.0h-0.97zM149.40,376.0h0.97V346.9h-0.97zM150.77,376.0h0.97V346.8h-0.97zM152.15,376.0h0.97V346.7h-0.97zM153.52,376.0h0.97V346.6h-0.97zM154.89,376.0h0.97V346.5h-0.97zM156.27,376.0h0.97V346.4h-0.97zM157.64,376.0h0.97V346.3h-0.97zM159.01,376.0h0.97V346.3h-0.97zM160.39,376.0h0.97V346.2h-0.97zM161.76,376.0h0.97V346.2h-0.97zM163.13,376.0h0.97V346.1h-0.97zM164.50,376.0h0.97V346.1h-0.97zM165.88,376.0h0.97V346.0h-0.97zM167.25,376.0h0.97V346.0h-0.97zM168.62,376.0h0.97V345.9h-0.97zM170.00,376.0h0.97V345.9h-0.97zM171.37,376.0h0.97V345.8h-0.97zM172.74,376.0h0.97V345.8h-0.97zM174.12,376.0h0.97V345.7h-0.97zM175.49,376.0h0.97V345.6h-0.97zM176.86,376.0h0.97V345.5h-0.97zM178.23,376.0h0.97V345.4h-0.97zM179.61,376.0h0.97V345.4h-0.97zM180.98,376.0h0.97V345.3h-0.97zM182.35,376.0h0.97V345.2h-0.97zM183.73,376.0h0.97V345.1h-0.97zM185.10,376.0h0.97V345.1h-0.97zM186.47,376.0h0.97V345.0h-0.97zM187.85,376.0h0.97V344.9h-0.97zM189.22,376.0h0.97V344.7h-0.97zM190.59,376.0h0.97V344.6h-0.97zM191.96,376.0h0.97V344.4h-0.97zM193.34,376.0h0.97V344.3h-0.97zM194.71,376.0h0.97V344.1h-0.97zM196.08,376.0h0.97V343.9h-0.97zM197.46,376.0h0.97V343.8h-0.97zM198.83,376.0h0.97V343.6h-0.97zM200.20,376.0h0.97V343.4h-0.97zM201.58,376.0h0.97V343.3h-0.97zM202.95,376.0h0.97V343.1h-0.97zM204.32,376.0h0.97V342.9h-0.97zM205.69,376.0h0.97V342.7h-0.97zM207.07,376.0h0.97V342.6h-0.97zM208.44,376.0h0.97V342.4h-0.97zM209.81,376.0h0.97V342.2h-0.97zM211.19,376.0h0.97V342.1h-0.97zM212.56,376.0h0.97V342.0h-0.97zM213.93,376.0h0.97V341.9h-0.97zM215.31,376.0h0.97V341.8h-0.97zM216.68,376.0h0.97V341.7h-0.97zM218.05,376.0h0.97V341.6h-0.97zM219.42,376.0h0.97V341.5h-0.97zM220.80,376.0h0.97V341.5h-0.97zM222.17,376.0h0.97V341.4h-0.97zM223.54,376.0h0.97V341.3h-0.97zM224.92,376.0h0.97V341.1h-0.97zM226.29,376.0h0.97V341.0h-0.97zM227.66,376.0h0.97V340.9h-0.97zM229.04,376.0h0.97V340.8h-0.97zM230.41,376.0h0.97V340.7h-0.97zM231.78,376.0h0.97V340.5h-0.97zM233.15,376.0h0.97V340.4h-0.97zM234.53,376.0h0.97V340.2h-0.97zM235.90,376.0h0.97V340.0h-0.97zM237.27,376.0h0.97V339.8h-0.97zM238.65,376.0h0.97V339.6h-0.97zM240.02,376.0h0.97V339.4h-0.97zM241.39,376.0h0.97V339.3h-0.97zM242.77,376.0h0.97V339.2h-0.97zM244.14,376.0h0.97V339.0h-0.97zM245.51,376.0h0.97V338.9h-0.97zM246.88,376.0h0.97V338.7h-0.97zM248.26,376.0h0.97V338.7h-0.97zM249.63,376.0h0.97V338.6h-0.97zM251.00,376.0h0.97V338.5h-0.97zM252.38,376.0h0.97V338.4h-0.97zM253.75,376.0h0.97V338.2h-0.97zM255.12,376.0h0.97V338.0h-0.97zM256.50,376.0h0.97V337.9h-0.97zM257.87,376.0h0.97V337.7h-0.97zM259.24,376.0h0.97V337.2h-0.97zM260.61,376.0h0.97V336.8h-0.97zM261.99,376.0h0.97V336.6h-0.97zM263.36,376.0h0.97V336.7h-0.97zM264.73,376.0h0.97V336.8h-0.97zM266.11,376.0h0.97V336.9h-0.97zM267.48,376.0h0.97V336.8h-0.97zM268.85,376.0h0.97V336.7h-0.97zM270.23,376.0h0.97V336.6h-0.97zM271.60,376.0h0.97V336.5h-0.97zM272.97,376.0h0.97V336.4h-0.97zM274.34,376.0h0.97V336.3h-0.97zM275.72,376.0h0.97V336.1h-0.97zM277.09,376.0h0.97V336.0h-0.97zM278.46,376.0h0.97V335.6h-0.97zM279.84,376.0h0.97V335.1h-0.97zM281.21,376.0h0.97V334.9h-0.97zM282.58,376.0h0.97V334.4h-0.97zM283.96,376.0h0.97V334.0h-0.97zM285.33,376.0h0.97V333.4h-0.97zM286.70,376.0h0.97V332.9h-0.97zM288.07,376.0h0.97V332.3h-0.97zM289.45,376.0h0.97V331.7h-0.97zM290.82,376.0h0.97V331.1h-0.97zM292.19,376.0h0.97V330.5h-0.97zM293.57,376.0h0.97V329.8h-0.97zM294.94,376.0h0.97V329.0h-0.97zM296.31,376.0h0.97V328.1h-0.97zM297.69,376.0h0.97V327.1h-0.97zM299.06,376.0h0.97V326.2h-0.97zM300.43,376.0h0.97V325.2h-0.97zM301.80,376.0h0.97V324.1h-0.97zM303.18,376.0h0.97V323.3h-0.97zM304.55,376.0h0.97V322.6h-0.97zM305.92,376.0h0.97V321.9h-0.97zM307.30,376.0h0.97V321.2h-0.97zM308.67,376.0h0.97V320.5h-0.97zM310.04,376.0h0.97V319.9h-0.97zM311.42,376.0h0.97V319.5h-0.97zM312.79,376.0h0.97V319.0h-0.97zM314.16,376.0h0.97V318.6h-0.97zM315.53,376.0h0.97V318.2h-0.97zM316.91,376.0h0.97V317.8h-0.97zM318.28,376.0h0.97V317.5h-0.97zM319.65,376.0h0.97V317.1h-0.97zM321.03,376.0h0.97V316.8h-0.97zM322.40,376.0h0.97V316.4h-0.97zM323.77,376.0h0.97V316.1h-0.97zM325.15,376.0h0.97V315.8h-0.97zM326.52,376.0h0.97V315.4h-0.97zM327.89,376.0h0.97V315.1h-0.97zM329.26,376.0h0.97V314.8h-0.97zM330.64,376.0h0.97V314.5h-0.97zM332.01,376.0h0.97V314.2h-0.97zM333.38,376.0h0.97V313.8h-0.97zM334.76,376.0h0.97V313.5h-0.97zM336.13,376.0h0.97V313.3h-0.97zM337.50,376.0h0.97V313.0h-0.97zM338.88,376.0h0.97V312.8h-0.97zM340.25,376.0h0.97V312.5h-0.97zM341.62,376.0h0.97V312.3h-0.97zM342.99,376.0h0.97V312.1h-0.97zM344.37,376.0h0.97V311.8h-0.97zM345.74,376.0h0.97V311.6h-0.97zM347.11,376.0h0.97V311.3h-0.97zM348.49,376.0h0.97V311.1h-0.97zM349.86,376.0h0.97V310.9h-0.97zM351.23,376.0h0.97V310.7h-0.97zM352.61,376.0h0.97V310.4h-0.97zM353.98,376.0h0.97V310.2h-0.97zM355.35,376.0h0.97V310.0h-0.97zM356.72,376.0h0.97V309.8h-0.97zM358.10,376.0h0.97V309.6h-0.97zM359.47,376.0h0.97V309.3h-0.97zM360.84,376.0h0.97V309.1h-0.97zM362.22,376.0h0.97V308.9h-0.97zM363.59,376.0h0.97V308.7h-0.97zM364.96,376.0h0.97V308.5h-0.97zM366.34,376.0h0.97V308.3h-0.97zM367.71,376.0h0.97V308.1h-0.97zM369.08,376.0h0.97V307.8h-0.97zM370.45,376.0h0.97V307.6h-0.97zM371.83,376.0h0.97V307.4h-0.97zM373.20,376.0h0.97V307.2h-0.97zM374.57,376.0h0.97V307.1h-0.97zM375.95,376.0h0.97V306.9h-0.97zM377.32,376.0h0.97V306.8h-0.97zM378.69,376.0h0.97V306.6h-0.97zM380.07,376.0h0.97V306.3h-0.97zM381.44,376.0h0.97V306.0h-0.97zM382.81,376.0h0.97V305.7h-0.97zM384.18,376.0h0.97V305.3h-0.97zM385.56,376.0h0.97V305.0h-0.97zM386.93,376.0h0.97V304.4h-0.97zM388.30,376.0h0.97V303.9h-0.97zM389.68,376.0h0.97V303.3h-0.97zM391.05,376.0h0.97V303.2h-0.97zM392.42,376.0h0.97V303.1h-0.97zM393.80,376.0h0.97V302.8h-0.97zM395.17,376.0h0.97V302.6h-0.97zM396.54,376.0h0.97V302.3h-0.97zM397.91,376.0h0.97V302.1h-0.97zM399.29,376.0h0.97V301.8h-0.97zM400.66,376.0h0.97V301.3h-0.97zM402.03,376.0h0.97V300.8h-0.97zM403.41,376.0h0.97V300.2h-0.97zM404.78,376.0h0.97V299.7h-0.97zM406.15,376.0h0.97V299.2h-0.97zM407.53,376.0h0.97V298.6h-0.97zM408.90,376.0h0.97V298.0h-0.97zM410.27,376.0h0.97V297.3h-0.97zM411.64,376.0h0.97V296.7h-0.97zM413.02,376.0h0.97V296.1h-0.97zM414.39,376.0h0.97V295.3h-0.97zM415.76,376.0h0.97V294.5h-0.97zM417.14,376.0h0.97V293.7h-0.97zM418.51,376.0h0.97V292.6h-0.97zM419.88,376.0h0.97V291.4h-0.97zM421.26,376.0h0.97V289.5h-0.97zM422.63,376.0h0.97V287.8h-0.97zM424.00,376.0h0.97V287.2h-0.97zM425.37,376.0h0.97V286.7h-0.97zM426.75,376.0h0.97V286.1h-0.97zM428.12,376.0h0.97V284.9h-0.97zM429.49,376.0h0.97V283.8h-0.97zM430.87,376.0h0.97V282.6h-0.97zM432.24,376.0h0.97V281.4h-0.97zM433.61,376.0h0.97V280.2h-0.97zM434.99,376.0h0.97V279.1h-0.97zM436.36,376.0h0.97V277.0h-0.97zM437.73,376.0h0.97V274.8h-0.97zM439.10,376.0h0.97V272.7h-0.97zM440.48,376.0h0.97V271.1h-0.97zM441.85,376.0h0.97V269.7h-0.97zM443.22,376.0h0.97V268.3h-0.97zM444.60,376.0h0.97V267.0h-0.97zM445.97,376.0h0.97V264.6h-0.97zM447.34,376.0h0.97V261.6h-0.97zM448.72,376.0h0.97V259.4h-0.97zM450.09,376.0h0.97V257.3h-0.97zM451.46,376.0h0.97V255.7h-0.97zM452.83,376.0h0.97V253.8h-0.97zM454.21,376.0h0.97V251.7h-0.97zM455.58,376.0h0.97V249.5h-0.97zM456.95,376.0h0.97V247.5h-0.97zM458.33,376.0h0.97V245.5h-0.97zM459.70,376.0h0.97V243.5h-0.97zM461.07,376.0h0.97V241.5h-0.97zM462.45,376.0h0.97V238.2h-0.97zM463.82,376.0h0.97V234.9h-0.97zM465.19,376.0h0.97V230.9h-0.97zM466.56,376.0h0.97V227.1h-0.97zM467.94,376.0h0.97V224.4h-0.97zM469.31,376.0h0.97V221.6h-0.97zM470.68,376.0h0.97V219.0h-0.97zM472.06,376.0h0.97V217.0h-0.97zM473.43,376.0h0.97V215.1h-0.97zM474.80,376.0h0.97V213.2h-0.97zM476.18,376.0h0.97V211.3h-0.97zM477.55,376.0h0.97V209.7h-0.97zM478.92,376.0h0.97V208.1h-0.97zM480.29,376.0h0.97V206.5h-0.97zM481.67,376.0h0.97V204.9h-0.97zM483.04,376.0h0.97V203.3h-0.97zM484.41,376.0h0.97V201.6h-0.97zM485.79,376.0h0.97V196.9h-0.97zM487.16,376.0h0.97V195.0h-0.97zM488.53,376.0h0.97V193.2h-0.97zM489.91,376.0h0.97V191.5h-0.97zM491.28,376.0h0.97V189.9h-0.97zM492.65,376.0h0.97V188.4h-0.97zM494.02,376.0h0.97V187.0h-0.97zM495.40,376.0h0.97V185.6h-0.97zM496.77,376.0h0.97V184.1h-0.97zM498.14,376.0h0.97V182.7h-0.97zM499.52,376.0h0.97V181.3h-0.97zM500.89,376.0h0.97V180.0h-0.97zM502.26,376.0h0.97V178.8h-0.97zM503.64,376.0h0.97V177.6h-0.97zM505.01,376.0h0.97V176.4h-0.97zM506.38,376.0h0.97V175.0h-0.97zM507.75,376.0h0.97V173.6h-0.97zM509.13,376.0h0.97V172.1h-0.97zM510.50,376.0h0.97V170.7h-0.97zM511.87,376.0h0.97V169.1h-0.97zM513.25,376.0h0.97V167.5h-0.97zM514.62,376.0h0.97V165.9h-0.97zM515.99,376.0h0.97V164.2h-0.97zM517.37,376.0h0.97V162.6h-0.97zM518.74,376.0h0.97V161.0h-0.97zM520.11,376.0h0.97V159.6h-0.97zM521.48,376.0h0.97V158.2h-0.97zM522.86,376.0h0.97V156.9h-0.97zM524.23,376.0h0.97V155.5h-0.97zM525.60,376.0h0.97V154.2h-0.97zM526.98,376.0h0.97V152.9h-0.97zM528.35,376.0h0.97V151.5h-0.97zM529.72,376.0h0.97V150.2h-0.97zM531.10,376.0h0.97V149.1h-0.97zM532.47,376.0h0.97V148.0h-0.97zM533.84,376.0h0.97V146.9h-0.97zM535.21,376.0h0.97V145.8h-0.97zM536.59,376.0h0.97V144.7h-0.97zM537.96,376.0h0.97V143.6h-0.97zM539.33,376.0h0.97V142.5h-0.97zM540.71,376.0h0.97V141.5h-0.97zM542.08,376.0h0.97V140.5h-0.97zM543.45,376.0h0.97V139.5h-0.97zM544.83,376.0h0.97V138.4h-0.97zM546.20,376.0h0.97V137.1h-0.97zM547.57,376.0h0.97V134.8h-0.97zM548.94,376.0h0.97V132.5h-0.97zM550.32,376.0h0.97V130.4h-0.97zM551.69,376.0h0.97V128.8h-0.97zM553.06,376.0h0.97V127.3h-0.97zM554.44,376.0h0.97V125.8h-0.97zM555.81,376.0h0.97V124.2h-0.97zM557.18,376.0h0.97V122.7h-0.97zM558.56,376.0h0.97V121.4h-0.97zM559.93,376.0h0.97V120.3h-0.97zM561.30,376.0h0.97V119.1h-0.97zM562.67,376.0h0.97V117.8h-0.97zM564.05,376.0h0.97V115.9h-0.97zM565.42,376.0h0.97V114.0h-0.97zM566.79,376.0h0.97V112.1h-0.97zM568.17,376.0h0.97V110.1h-0.97zM569.54,376.0h0.97V109.0h-0.97zM570.91,376.0h0.97V107.9h-0.97zM572.29,376.0h0.97V106.9h-0.97zM573.66,376.0h0.97V105.8h-0.97zM575.03,376.0h0.97V104.4h-0.97zM576.40,376.0h0.97V103.0h-0.97zM577.78,376.0h0.97V101.8h-0.97zM579.15,376.0h0.97V100.6h-0.97zM580.52,376.0h0.97V99.3h-0.97zM581.90,376.0h0.97V98.1h-0.97zM583.27,376.0h0.97V96.9h-0.97zM584.64,376.0h0.97V95.7h-0.97zM586.02,376.0h0.97V93.9h-0.97zM587.39,376.0h0.97V92.1h-0.97zM588.76,376.0h0.97V90.3h-0.97zM590.13,376.0h0.97V88.5h-0.97zM591.51,376.0h0.97V86.9h-0.97zM592.88,376.0h0.97V85.4h-0.97zM594.25,376.0h0.97V83.9h-0.97zM595.63,376.0h0.97V82.5h-0.97zM597.00,376.0h0.97V81.0h-0.97zM598.37,376.0h0.97V79.4h-0.97zM599.75,376.0h0.97V77.9h-0.97zM601.12,376.0h0.97V76.1h-0.97zM602.49,376.0h0.97V74.4h-0.97zM603.86,376.0h0.97V72.6h-0.97zM605.24,376.0h0.97V70.9h-0.97zM606.61,376.0h0.97V69.0h-0.97zM607.98,376.0h0.97V67.1h-0.97zM609.36,376.0h0.97V65.3h-0.97zM610.73,376.0h0.97V63.4h-0.97zM612.10,376.0h0.97V61.5h-0.97zM613.48,376.0h0.97V59.6h-0.97z" fill="#f3e3ec"/>
<text x="562.4" y="54.8" font-size="24" fill="#cb8cab" stroke="#cb8cab" stroke-width="0.6" opacity="0.3" textLength="67.3" lengthAdjust="spacingAndGlyphs">11<tspan font-size="22">만</tspan>1422</text>
<rect x="614" y="58" width="1" height="318" fill="#edb4ce"/>

<path d="M17.8,376.0 L19.2,376.1 L20.6,375.9 L22.0,375.3 L23.3,374.8 L24.7,374.2 L26.1,373.6 L27.4,373.0 L28.8,371.2 L30.2,369.5 L31.6,367.7 L32.9,366.1 L34.3,364.1 L35.7,362.1 L37.1,360.9 L38.4,359.7 L39.8,358.5 L41.2,357.3 L42.5,356.9 L43.9,356.6 L45.3,356.3 L46.7,356.0 L48.0,355.8 L49.4,355.9 L50.8,356.0 L52.2,356.2 L53.5,356.7 L54.9,357.2 L56.3,357.7 L57.7,358.2 L59.0,358.8 L63.0,361.5 L67.5,364.1 L72.0,365.6 L77.5,366.6 L90.0,369.1 L102.5,371.0 L110.0,371.9 L115.0,372.6 L125.6,373.8 L141.2,374.5 L156.9,374.7 L172.5,373.9 L188.0,373.4 L197.5,373.8 L210.0,374.0 L231.2,373.8 L246.9,374.5 L259.4,374.6 L262.0,374.2 L265.6,372.0 L271.9,368.1 L278.1,364.7 L282.0,363.6 L285.2,363.3 L289.0,363.4 L292.2,363.9 L295.0,364.5 L300.0,366.6 L302.8,368.1 L310.6,370.2 L323.1,371.7 L335.6,372.8 L349.7,373.1 L360.6,372.5 L373.1,371.7 L385.6,370.2 L390.0,369.5 L395.0,367.0 L399.4,364.8 L408.8,359.3 L418.2,353.0 L422.9,351.5 L429.1,343.6 L435.4,335.8 L440.1,333.5 L445.6,328.0 L447.9,328.5 L452.6,326.4 L462.0,326.4 L464.3,329.6 L466.7,334.3 L471.4,339.0 L477.6,342.0 L480.0,342.9 L485.5,345.0 L486.3,348.5 L490.0,350.2 L492.5,351.0 L500.3,352.6 L511.3,353.0 L520.7,354.6 L530.0,355.7 L539.5,354.9 L546.5,353.8 L550.4,356.6 L558.2,357.7 L562.9,357.0 L568.8,359.4 L576.2,357.8 L585.0,354.4 L591.2,354.4 L597.5,352.8 L606.2,351.2 L615.0,350.6" fill="none" stroke="#8b2a85" stroke-width="1.9" stroke-linejoin="round" stroke-linecap="round"/>
<rect x="16.3" y="375.5" width="601" height="1.1" fill="#222"/>
<rect x="18" y="57.3" width="163.1" height="24.2" rx="4" fill="#dba9c3"/>
<rect x="186.4" y="57.3" width="118.4" height="24.2" rx="4" fill="#84468c"/>
<rect x="309.4" y="57.3" width="90.5" height="24.2" rx="4" fill="#878586"/>
<path d="M508.6,22.5 H614.6 V28.5" fill="none" stroke="#4a4a4a" stroke-width="1"/>
<path d="M545.7,94 H611.6 L614.3,85.3 L618.6,94 H627.4 a4,4 0 0 1 4,4 V114.2 a4,4 0 0 1 -4,4 H545.7 a4,4 0 0 1 -4,-4 V98 a4,4 0 0 1 4,-4 Z" fill="#dfa3c0" fill-opacity="0.64"/>
<rect x="452.6" y="247.9" width="57.9" height="22.3" rx="4" fill="#e8b7cd"/>
<path d="M516.1,319.1 H560.2 a4,4 0 0 1 4,4 V338.1 a4,4 0 0 1 -4,4 H540.3 L534.6,349.5 L533.4,342.1 H516.1 a4,4 0 0 1 -4,-4 V323.1 a4,4 0 0 1 4,-4 Z" fill="#8c3e8b"/>
<g transform="rotate(0.02 320 223)">
<text x="18.3" y="39.7" font-size="26.5" font-weight="400" fill="#111" text-anchor="start" textLength="87.5" lengthAdjust="spacingAndGlyphs"  stroke="#111" stroke-width="0.30"><tspan font-size="25.0">코로나</tspan>19</text>
<text x="112.2" y="39.6" font-size="25.0" font-weight="700" fill="#111" text-anchor="start" textLength="111.3" lengthAdjust="spacingAndGlyphs" >국내 확진자</text>
<text x="231.6" y="39.6" font-size="25.0" font-weight="400" fill="#111" text-anchor="start" textLength="43.5" lengthAdjust="spacingAndGlyphs"  stroke="#111" stroke-width="0.30">추이</text>
<text x="280.4" y="38.7" font-size="13.2" font-weight="400" fill="#111" text-anchor="start" textLength="50.6" lengthAdjust="spacingAndGlyphs"  stroke="#111" stroke-width="0.20">(단위: 명)</text>
<text x="338.2" y="38.7" font-size="13.2" font-weight="400" fill="#111" text-anchor="start" textLength="75.6" lengthAdjust="spacingAndGlyphs"  stroke="#111" stroke-width="0.20">30일 0시 기준</text>
<text x="23.7" y="74.3" font-size="16.0" font-weight="400" fill="#fff" text-anchor="start" textLength="54.5" lengthAdjust="spacingAndGlyphs"  stroke="#fff" stroke-width="0.20">격리해제</text>
<text x="82.5" y="74.3" font-size="16.2" font-weight="700" fill="#fff" text-anchor="start" textLength="55.5" lengthAdjust="spacingAndGlyphs" >11<tspan font-size="15.0">만</tspan>1422</text>
<text x="144.2" y="74.3" font-size="16.2" font-weight="400" fill="#66535f" text-anchor="start" textLength="34.5" lengthAdjust="spacingAndGlyphs"  stroke="#66535f" stroke-width="0.20">(+635)</text>
<text x="191.6" y="74.3" font-size="16.0" font-weight="400" fill="#fff" text-anchor="start" textLength="43.8" lengthAdjust="spacingAndGlyphs"  stroke="#fff" stroke-width="0.20">격리 중</text>
<text x="238.0" y="74.3" font-size="16.2" font-weight="700" fill="#fff" text-anchor="start" textLength="29.0" lengthAdjust="spacingAndGlyphs" >8757</text>
<text x="269.2" y="74.3" font-size="16.2" font-weight="400" fill="#e3cfe5" text-anchor="start" textLength="28.5" lengthAdjust="spacingAndGlyphs"  stroke="#e3cfe5" stroke-width="0.20">(+23)</text>
<text x="314.9" y="74.3" font-size="16.0" font-weight="400" fill="#fff" text-anchor="start" textLength="26.5" lengthAdjust="spacingAndGlyphs"  stroke="#fff" stroke-width="0.20">사망</text>
<text x="344.5" y="74.3" font-size="16.2" font-weight="700" fill="#fff" text-anchor="start" textLength="28.5" lengthAdjust="spacingAndGlyphs" >1828</text>
<text x="374.6" y="74.3" font-size="16.2" font-weight="400" fill="#e6e4e5" text-anchor="start" textLength="23.0" lengthAdjust="spacingAndGlyphs"  stroke="#e6e4e5" stroke-width="0.20">(+3)</text>
<text x="463.7" y="29.0" font-size="17.5" font-weight="400" fill="#111" text-anchor="start" textLength="42.3" lengthAdjust="spacingAndGlyphs"  stroke="#111" stroke-width="0.25">확진자</text>
<text x="463.8" y="51.2" font-size="21.3" font-weight="700" fill="#111" text-anchor="start" textLength="76.0" lengthAdjust="spacingAndGlyphs" >12<tspan font-size="18.5">만</tspan>2007<tspan font-size="18.5">명</tspan></text>
<text x="463.5" y="72.0" font-size="17.0" font-weight="400" fill="#111" text-anchor="start" textLength="33.8" lengthAdjust="spacingAndGlyphs"  stroke="#111" stroke-width="0.25">(+661)</text>
<text x="546.0" y="112.6" font-size="16.3" font-weight="400" fill="#fff" text-anchor="start" textLength="36.0" lengthAdjust="spacingAndGlyphs"  stroke="#fff" stroke-width="0.20">완치율</text>
<text x="587.3" y="112.8" font-size="17.6" font-weight="700" fill="#fff" text-anchor="start" textLength="31.6" lengthAdjust="spacingAndGlyphs" >91.32</text>
<text x="619.0" y="112.6" font-size="14.5" font-weight="400" fill="#fff" text-anchor="start" textLength="10.8" lengthAdjust="spacingAndGlyphs" >%</text>
<text x="457.5" y="264.6" font-size="15.5" font-weight="700" fill="#fff" text-anchor="start" textLength="49.3" lengthAdjust="spacingAndGlyphs" >격리해제</text>
<text x="517.1" y="336.3" font-size="16.0" font-weight="700" fill="#fff" text-anchor="start" textLength="43.0" lengthAdjust="spacingAndGlyphs" >격리 중</text>
<text x="593.0" y="344.7" font-size="24.5" font-weight="700" fill="#fff" text-anchor="start" textLength="35.8" lengthAdjust="spacingAndGlyphs" stroke="#8b2a85" stroke-width="4.4" paint-order="stroke" stroke-linejoin="round">8757</text>
<text x="13.6" y="368.4" font-size="15.6" font-weight="400" fill="#111" text-anchor="start" textLength="21.0" lengthAdjust="spacingAndGlyphs"  stroke="#111" stroke-width="0.25">1261</text>
<text x="64.5" y="343.2" font-size="15.6" font-weight="400" fill="#111" text-anchor="start" textLength="27.9" lengthAdjust="spacingAndGlyphs"  stroke="#111" stroke-width="0.25">1<tspan font-size="13.0">만</tspan>62</text>
<text x="266.1" y="319.2" font-size="15.6" font-weight="400" fill="#111" text-anchor="start" textLength="34.8" lengthAdjust="spacingAndGlyphs"  stroke="#111" stroke-width="0.25">2<tspan font-size="13.0">만</tspan>182</text>
<text x="375.8" y="289.1" font-size="15.6" font-weight="400" fill="#111" text-anchor="start" textLength="28.3" lengthAdjust="spacingAndGlyphs"  stroke="#111" stroke-width="0.25">3<tspan font-size="13.0">만</tspan>17</text>
<text x="442.3" y="179.4" font-size="15.6" font-weight="400" fill="#111" text-anchor="start" textLength="17.9" lengthAdjust="spacingAndGlyphs"  stroke="#111" stroke-width="0.25">6<tspan font-size="13.0">만</tspan></text>
<text x="440.5" y="193.2" font-size="15.6" font-weight="400" fill="#111" text-anchor="start" textLength="22.9" lengthAdjust="spacingAndGlyphs"  stroke="#111" stroke-width="0.25">1769</text>
<text x="486.0" y="136.8" font-size="15.6" font-weight="400" fill="#111" text-anchor="start" textLength="16.8" lengthAdjust="spacingAndGlyphs"  stroke="#111" stroke-width="0.25">7<tspan font-size="13.0">만</tspan></text>
<text x="483.0" y="150.3" font-size="15.6" font-weight="400" fill="#111" text-anchor="start" textLength="23.2" lengthAdjust="spacingAndGlyphs"  stroke="#111" stroke-width="0.25">8508</text>
<text x="67.6" y="358.8" font-size="15.0" font-weight="400" fill="#ebcad9" text-anchor="start" textLength="21.7" lengthAdjust="spacingAndGlyphs"  stroke="#ebcad9" stroke-width="0.25">6021</text>
<text x="134.9" y="357.3" font-size="15.0" font-weight="400" fill="#e3bdd0" text-anchor="start" textLength="27.8" lengthAdjust="spacingAndGlyphs"  stroke="#e3bdd0" stroke-width="0.25">1<tspan font-size="13.0">만</tspan>66</text>
<text x="304.6" y="326.2" font-size="15.0" font-weight="400" fill="#ebcad9" text-anchor="start" textLength="16.4" lengthAdjust="spacingAndGlyphs"  stroke="#ebcad9" stroke-width="0.25">2<tspan font-size="13.0">만</tspan></text>
<text x="306.1" y="339.0" font-size="15.0" font-weight="400" fill="#ebcad9" text-anchor="start" textLength="15.5" lengthAdjust="spacingAndGlyphs"  stroke="#ebcad9" stroke-width="0.25">158</text>
<text x="431.2" y="261.4" font-size="14.5" font-weight="400" fill="#ecd2de" text-anchor="start" textLength="16.4" lengthAdjust="spacingAndGlyphs"  stroke="#ecd2de" stroke-width="0.25">4<tspan font-size="12.5">만</tspan></text>
<text x="431.5" y="273.6" font-size="14.5" font-weight="400" fill="#ecd2de" text-anchor="start" textLength="16.1" lengthAdjust="spacingAndGlyphs"  stroke="#ecd2de" stroke-width="0.25">703</text>
<text x="486.0" y="170.8" font-size="15.0" font-weight="400" fill="#ebcad9" text-anchor="start" textLength="16.8" lengthAdjust="spacingAndGlyphs"  stroke="#ebcad9" stroke-width="0.25">6<tspan font-size="13.0">만</tspan></text>
<text x="483.1" y="183.9" font-size="15.0" font-weight="400" fill="#ebcad9" text-anchor="start" textLength="22.6" lengthAdjust="spacingAndGlyphs"  stroke="#ebcad9" stroke-width="0.25">8309</text>
<text x="36.8" y="354.3" font-size="15.0" font-weight="400" fill="#aa72a8" text-anchor="start" textLength="22.8" lengthAdjust="spacingAndGlyphs"  stroke="#aa72a8" stroke-width="0.25">7470</text>
<text x="101.6" y="370.9" font-size="15.0" font-weight="400" fill="#aa72a8" text-anchor="start" textLength="22.4" lengthAdjust="spacingAndGlyphs"  stroke="#aa72a8" stroke-width="0.25">1459</text>
<text x="143.7" y="373.3" font-size="15.0" font-weight="400" fill="#aa72a8" text-anchor="start" textLength="17.2" lengthAdjust="spacingAndGlyphs"  stroke="#aa72a8" stroke-width="0.25">713</text>
<text x="178.6" y="370.9" font-size="15.0" font-weight="400" fill="#aa72a8" text-anchor="start" textLength="22.1" lengthAdjust="spacingAndGlyphs"  stroke="#aa72a8" stroke-width="0.25">1148</text>
<text x="247.9" y="372.8" font-size="15.0" font-weight="400" fill="#aa72a8" text-anchor="start" textLength="17.9" lengthAdjust="spacingAndGlyphs"  stroke="#aa72a8" stroke-width="0.25">623</text>
<text x="275.0" y="361.6" font-size="15.0" font-weight="400" fill="#aa72a8" text-anchor="start" textLength="23.1" lengthAdjust="spacingAndGlyphs"  stroke="#aa72a8" stroke-width="0.25">4786</text>
<text x="337.5" y="370.1" font-size="15.0" font-weight="400" fill="#aa72a8" text-anchor="start" textLength="22.0" lengthAdjust="spacingAndGlyphs"  stroke="#aa72a8" stroke-width="0.25">1407</text>
<text x="384.0" y="362.3" font-size="15.0" font-weight="400" fill="#aa72a8" text-anchor="start" textLength="22.1" lengthAdjust="spacingAndGlyphs"  stroke="#aa72a8" stroke-width="0.25">4121</text>
<text x="432.1" y="323.6" font-size="15.0" font-weight="400" fill="#aa72a8" text-anchor="start" textLength="38.2" lengthAdjust="spacingAndGlyphs"  stroke="#aa72a8" stroke-width="0.25">1<tspan font-size="13.0">만</tspan>8067</text>
<text x="12.2" y="391.4" font-size="15.0" font-weight="700" fill="#111" text-anchor="start" textLength="34.0" lengthAdjust="spacingAndGlyphs" >2<tspan font-size="13.5">월</tspan>3<tspan font-size="13.5">월</tspan></text>
<text x="64.8" y="391.4" font-size="15.0" font-weight="700" fill="#111" text-anchor="start" textLength="17.4" lengthAdjust="spacingAndGlyphs" >4<tspan font-size="13.5">월</tspan></text>
<text x="105.4" y="391.4" font-size="15.0" font-weight="700" fill="#111" text-anchor="start" textLength="17.1" lengthAdjust="spacingAndGlyphs" >5<tspan font-size="13.5">월</tspan></text>
<text x="148.0" y="391.4" font-size="15.0" font-weight="700" fill="#111" text-anchor="start" textLength="17.3" lengthAdjust="spacingAndGlyphs" >6<tspan font-size="13.5">월</tspan></text>
<text x="190.3" y="391.4" font-size="15.0" font-weight="700" fill="#111" text-anchor="start" textLength="16.3" lengthAdjust="spacingAndGlyphs" >7<tspan font-size="13.5">월</tspan></text>
<text x="232.3" y="391.4" font-size="15.0" font-weight="700" fill="#111" text-anchor="start" textLength="17.3" lengthAdjust="spacingAndGlyphs" >8<tspan font-size="13.5">월</tspan></text>
<text x="274.5" y="391.4" font-size="15.0" font-weight="700" fill="#111" text-anchor="start" textLength="17.2" lengthAdjust="spacingAndGlyphs" >9<tspan font-size="13.5">월</tspan></text>
<text x="315.5" y="391.4" font-size="15.0" font-weight="700" fill="#111" text-anchor="start" textLength="22.6" lengthAdjust="spacingAndGlyphs" >10<tspan font-size="13.5">월</tspan></text>
<text x="357.2" y="391.4" font-size="15.0" font-weight="700" fill="#111" text-anchor="start" textLength="21.9" lengthAdjust="spacingAndGlyphs" >11<tspan font-size="13.5">월</tspan></text>
<text x="398.0" y="391.4" font-size="15.0" font-weight="700" fill="#111" text-anchor="start" textLength="22.3" lengthAdjust="spacingAndGlyphs" >12<tspan font-size="13.5">월</tspan></text>
<text x="443.0" y="391.4" font-size="15.0" font-weight="700" fill="#111" text-anchor="start" textLength="16.7" lengthAdjust="spacingAndGlyphs" >1<tspan font-size="13.5">월</tspan></text>
<text x="486.1" y="391.4" font-size="15.0" font-weight="700" fill="#111" text-anchor="start" textLength="17.8" lengthAdjust="spacingAndGlyphs" >2<tspan font-size="13.5">월</tspan></text>
<text x="524.9" y="391.4" font-size="15.0" font-weight="700" fill="#111" text-anchor="start" textLength="16.7" lengthAdjust="spacingAndGlyphs" >3<tspan font-size="13.5">월</tspan></text>
<text x="565.4" y="391.4" font-size="15.0" font-weight="700" fill="#111" text-anchor="start" textLength="17.4" lengthAdjust="spacingAndGlyphs" >4<tspan font-size="13.5">월</tspan></text>
<text x="601.0" y="391.4" font-size="15.0" font-weight="400" fill="#333" text-anchor="start" textLength="22.6" lengthAdjust="spacingAndGlyphs" >30<tspan font-size="13.5">일</tspan></text>
<text x="18.4" y="403.1" font-size="11.0" font-weight="400" fill="#111" text-anchor="start" textLength="18.4" lengthAdjust="spacingAndGlyphs"  stroke="#111" stroke-width="0.25">2020</text>
<text x="443.1" y="403.1" font-size="11.0" font-weight="400" fill="#111" text-anchor="start" textLength="18.2" lengthAdjust="spacingAndGlyphs"  stroke="#111" stroke-width="0.25">2021</text>
<text x="13.2" y="423.9" font-size="12.8" font-weight="400" fill="#111" text-anchor="start" textLength="23.0" lengthAdjust="spacingAndGlyphs"  stroke="#111" stroke-width="0.20">자료:</text>
<text x="43.3" y="423.9" font-size="12.8" font-weight="700" fill="#111" text-anchor="start" textLength="51.0" lengthAdjust="spacingAndGlyphs" >질병관리청</text>
<text x="409.8" y="424.9" font-size="11.8" font-weight="400" fill="#222" text-anchor="start" textLength="223.5" lengthAdjust="spacingAndGlyphs" >21.04.30 <tspan font-size="11.0">전진우</tspan> <tspan font-size="11.0">그래픽</tspan> <tspan font-size="11.0">기자</tspan> 618tue@newsis.com</text>
<defs><filter id="wmsh" x="-10%" y="-50%" width="120%" height="200%"><feGaussianBlur stdDeviation="2.3"/></filter></defs>
<text x="494.5" y="428.3" font-size="27" font-weight="700" font-style="italic" fill="#000" stroke="#000" stroke-width="2.2" opacity="0.33" textLength="125" lengthAdjust="spacingAndGlyphs" filter="url(#wmsh)">NEWSIS</text>
<text x="493.5" y="427.3" font-size="27" font-weight="700" font-style="italic" fill="#f6f6f6" stroke="#f6f6f6" stroke-width="1.5" stroke-linejoin="round" opacity="0.55" textLength="125" lengthAdjust="spacingAndGlyphs">NEWSIS</text>
</g>
</svg>
</body></html>
